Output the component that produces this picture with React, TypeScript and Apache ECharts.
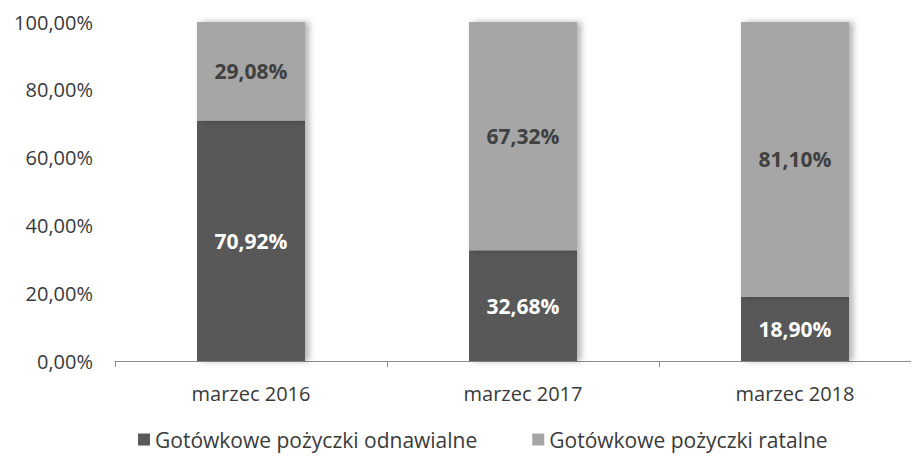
import React, { useEffect, useRef } from "react";
import * as echarts from "echarts";

const categories = ["marzec 2016", "marzec 2017", "marzec 2018"];
const odnawialne = [70.92, 32.68, 18.9];
const ratalne = [29.08, 67.32, 81.1];
const seriesNames = ["Gotówkowe pożyczki odnawialne", "Gotówkowe pożyczki ratalne"];

const fmt = (v: number) => v.toFixed(2).replace(".", ",") + "%";

export default function App() {
  const ref = useRef<HTMLDivElement>(null);
  useEffect(() => {
    if (!ref.current) return;
    const chart = echarts.init(ref.current, null, { renderer: "svg" });
    const font = "'Open Sans', sans-serif";
    const shadow = {
      shadowBlur: 6,
      shadowOffsetX: 4,
      shadowOffsetY: 0,
      shadowColor: "rgba(0,0,0,0.3)",
    };
    chart.setOption({
      animation: false,
      grid: { left: 115, right: 0, top: 22, bottom: 104, containLabel: false },
      legend: {
        bottom: 10,
        left: 133,
        itemWidth: 12,
        itemHeight: 12,
        itemGap: 55,
        icon: "rect",
        textStyle: { fontFamily: font, fontSize: 21, color: "#3a3a3a" },
        data: seriesNames,
      },
      xAxis: {
        type: "category",
        data: categories,
        axisLine: { show: true, lineStyle: { color: "#8c8c8c", width: 1 } },
        axisTick: { show: true, length: 6, lineStyle: { color: "#8c8c8c" } },
        axisLabel: { margin: 22, fontFamily: font, fontSize: 20, color: "#3a3a3a" },
      },
      yAxis: {
        type: "value",
        min: 0,
        max: 100,
        interval: 20,
        splitLine: { show: false },
        axisLine: { show: false },
        axisTick: { show: false },
        axisLabel: {
          margin: 22,
          fontFamily: font,
          fontSize: 20,
          color: "#3a3a3a",
          formatter: (v: number) => fmt(v),
        },
      },
      series: [
        {
          name: seriesNames[0],
          type: "bar",
          stack: "s",
          barWidth: 108,
          data: odnawialne,
          itemStyle: { color: "#595959", ...shadow },
          label: {
            show: true,
            position: "inside",
            fontFamily: font,
            fontSize: 21,
            fontWeight: "bold",
            color: "#ffffff",
            formatter: (p: any) => fmt(p.value),
          },
        },
        {
          name: seriesNames[1],
          type: "bar",
          stack: "s",
          barWidth: 108,
          data: ratalne,
          itemStyle: { color: "#a6a6a6", ...shadow },
          label: {
            show: true,
            position: "inside",
            fontFamily: font,
            fontSize: 21,
            fontWeight: "bold",
            color: "#404040",
            formatter: (p: any) => fmt(p.value),
          },
        },
      ],
    });
    return () => chart.dispose();
  }, []);
  return (
    <div style={{ width: 919, height: 465, margin: -8, overflow: "hidden", position: "relative" }}>
      <div ref={ref} style={{ width: 931, height: 465 }} />
    </div>
  );
}
